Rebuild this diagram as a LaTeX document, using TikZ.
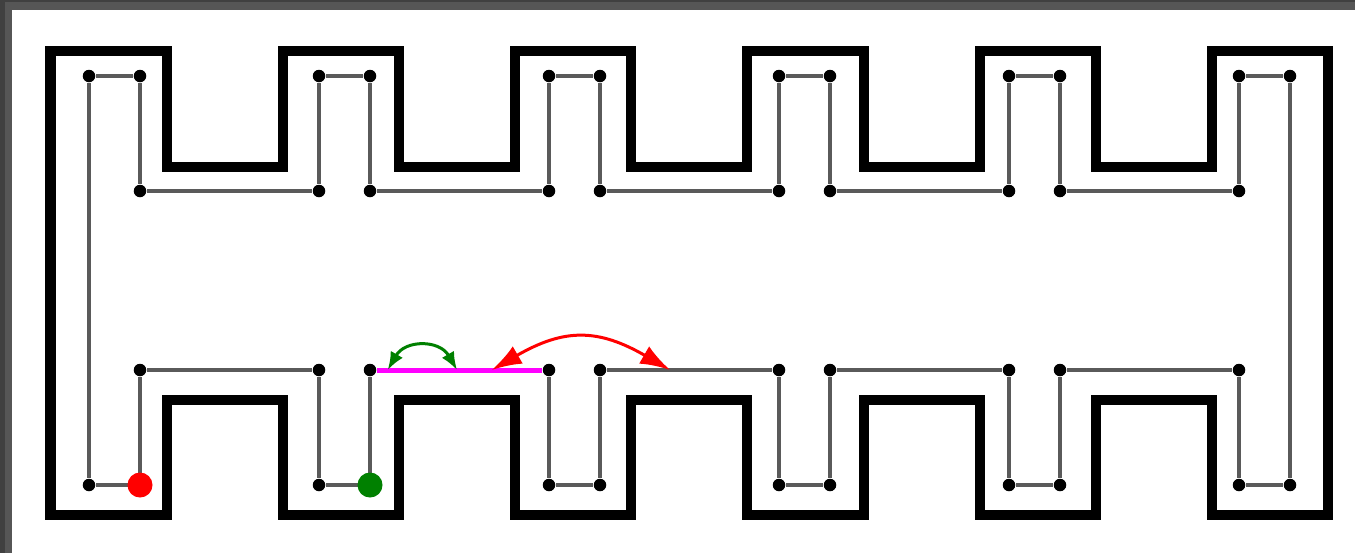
\documentclass[tikz,border=0pt]{standalone}
\usetikzlibrary{arrows.meta}
\definecolor{linkgray}{HTML}{5A5A5A}
\definecolor{framegray}{HTML}{565656}
\definecolor{framedark}{HTML}{404040}
\definecolor{darkgreen}{HTML}{008000}
\definecolor{cutpink}{HTML}{FF00FF}
\definecolor{pureRed}{HTML}{FF0000}

\begin{document}
\begin{tikzpicture}[x=0.01cm, y=-0.01cm,
    dot/.style = {circle, fill=black, inner sep=0pt, minimum size=0.125cm},
    big/.style = {circle, inner sep=0pt, minimum size=0.25cm},
    wall/.style = {line width=0.1cm},
    link/.style = {draw=linkgray, line width=0.047cm}]

        %Rahmen
        \fill[framedark] (0,0) rectangle (1355,553);
        \fill[framegray] (5,2) rectangle (1355,553);
        \fill[white] (12,10) rectangle (1355,553);

        %Wand
        \draw[wall] (50.5,50.7)
            \foreach \k in {0,...,4} {-- ++(116.3,0) -- ++(0,116) -- ++(116,0) -- ++(0,-116)}
            -- ++(116.3,0) -- ++(0,464.3)
            \foreach \k in {0,...,4} {-- ++(-116.3,0) -- ++(0,-115) -- ++(-116,0) -- ++(0,115)}
            -- ++(-116.3,0) -- cycle;

        %Knoten
        \foreach \k in {0,...,5} {
            \node[dot] (al\k) at (89+230*\k, 76) {};
            \node[dot] (ar\k) at (140+230*\k, 76) {};
            \node[dot] (dl\k) at (89+230*\k, 485) {};
            \node[dot] (dr\k) at (140+230*\k, 485) {};
        }
        \foreach \k in {1,...,5} {
            \node[dot] (bl\k) at (89+230*\k, 191) {};
            \node[dot] (cl\k) at (89+230*\k, 370) {};
        }
        \foreach \k in {0,...,4} {
            \node[dot] (br\k) at (140+230*\k, 191) {};
            \node[dot] (cr\k) at (140+230*\k, 370) {};
        }

        %Kanten
        \draw[link] (al0) -- (dl0);
        \draw[link] (ar5) -- (dr5);
        \foreach \k in {0,...,5} {
            \draw[link] (al\k) -- (ar\k);
            \draw[link] (dl\k) -- (dr\k);
        }
        \foreach \k in {0,...,4} {
            \pgfmathtruncatemacro\j{\k+1}
            \draw[link] (ar\k) -- (br\k) -- (bl\j) -- (al\j);
            \draw[link] (dr\k) -- (cr\k);
            \draw[link] (cl\j) -- (dl\j);
        }
        \foreach \k in {0,3,4} {
            \pgfmathtruncatemacro\j{\k+1}
            \draw[link] (cr\k) -- (cl\j);
        }
        \draw[link] (cr2) -- (cl3) coordinate[pos=0.383] (r2);
        \draw[cutpink, line width=0.05cm] (cr1) -- (cl2)
            coordinate[pos=0.065] (g1) coordinate[pos=0.485] (g2) coordinate[pos=0.695] (r1);

        \node[big, fill=pureRed] (rdot) at (dr0) {};
        \node[big, fill=darkgreen] (gdot) at (dr1) {};

        %Pfeile
        \draw[darkgreen, line width=0.03cm, {Latex[length=0.18cm, width=0.14cm]}-{Latex[length=0.18cm, width=0.14cm]}]
            (g1) to[bend left=60, looseness=1.3] (g2);
        \draw[pureRed, line width=0.03cm, {Latex[length=0.3cm, width=0.2cm]}-{Latex[length=0.3cm, width=0.2cm]}]
            (r1) to[bend left=30, looseness=1.2] (r2);

    \end{tikzpicture}
\end{document}
